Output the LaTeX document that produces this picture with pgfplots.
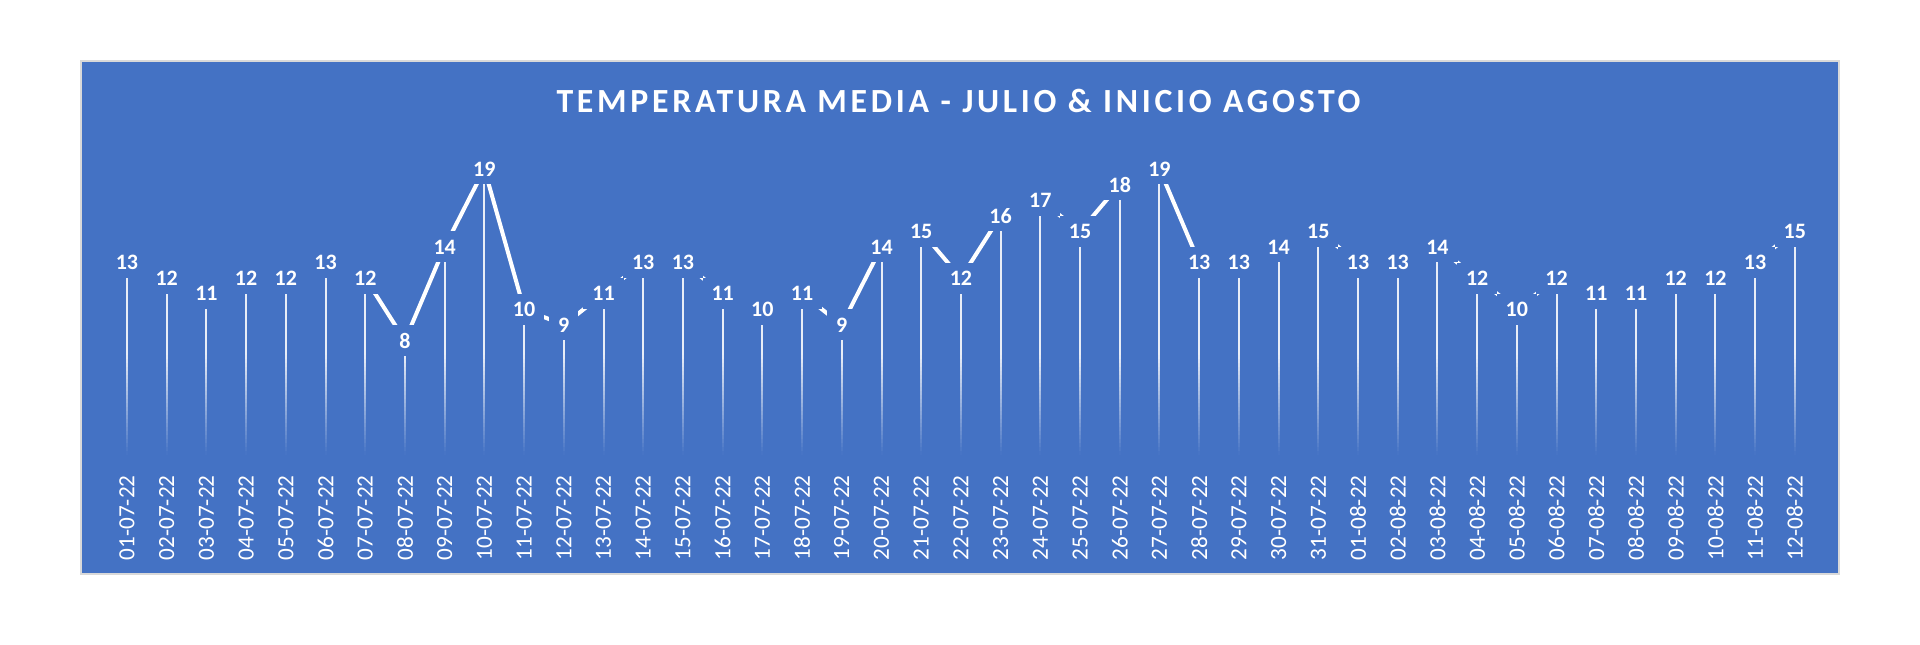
\documentclass[border=0pt]{standalone}
\usepackage{fontspec}
\setmainfont{Carlito}
\newfontfamily\titlefont[LetterSpace=11]{Carlito}
\usepackage{pgfplots}
\pgfplotsset{compat=1.18}
\usepackage{pgfplotstable}
\definecolor{bgblue}{RGB}{68,114,196}

\pgfplotstableread{
i t
0 13
1 12
2 11
3 12
4 12
5 13
6 12
7 8
8 14
9 19
10 10
11 9
12 11
13 13
14 13
15 11
16 10
17 11
18 9
19 14
20 15
21 12
22 16
23 17
24 15
25 18
26 19
27 13
28 13
29 14
30 15
31 13
32 13
33 14
34 12
35 10
36 12
37 11
38 11
39 12
40 12
41 13
42 15
}\data

\begin{document}
\begin{tikzpicture}
\fill[white] (0,0) rectangle (960pt,322pt);
\fill[bgblue] (40.5pt,35pt) rectangle (919.5pt,291.5pt);
\draw[black!15, line width=0.6pt] (40.5pt,35pt) rectangle (919.5pt,291.5pt);
\node[anchor=base, text=white, font=\titlefont\bfseries\fontsize{16.9}{20}\selectfont] at (479.25pt,265.5pt) {TEMPERATURA MEDIA - JULIO \& INICIO AGOSTO};
\begin{axis}[
  at={(53.57pt,85.22pt)}, anchor=south west,
  scale only axis, width=853.77pt, height=191.88pt,
  xmin=-0.5, xmax=42.5, ymin=0.4, ymax=25,
  axis line style={draw=none}, major tick length=0pt,
  ytick=\empty,
  xtick={0,...,42},
  xticklabels={01-07-22,02-07-22,03-07-22,04-07-22,05-07-22,06-07-22,07-07-22,08-07-22,09-07-22,10-07-22,11-07-22,12-07-22,13-07-22,14-07-22,15-07-22,16-07-22,17-07-22,18-07-22,19-07-22,20-07-22,21-07-22,22-07-22,23-07-22,24-07-22,25-07-22,26-07-22,27-07-22,28-07-22,29-07-22,30-07-22,31-07-22,01-08-22,02-08-22,03-08-22,04-08-22,05-08-22,06-08-22,07-08-22,08-08-22,09-08-22,10-08-22,11-08-22,12-08-22},
  xticklabel style={rotate=90, anchor=east, inner sep=0pt, text=white, font=\fontsize{11.6}{13}\selectfont},
  xticklabel shift=0.72pt,
  /pgf/number format/assume math mode=true,
]
\addplot[ycomb, white, opacity=0.88, line width=1pt, no marks] table[x=i, y=t] {\data};
\addplot[white, line width=2pt, no marks, line join=round] table[x=i, y expr=\thisrow{t}+0.93] {\data};
\addplot[draw=none, no marks, nodes near coords, point meta=explicit,
  nodes near coords style={anchor=center, fill=bgblue, text=white, inner xsep=4.5pt, inner ysep=0pt, minimum height=15.5pt, font=\bfseries\fontsize{11}{13}\selectfont}]
  table[x=i, y expr=\thisrow{t}+0.93, meta=t] {\data};
\end{axis}
% fade of the drop lines towards the date labels
\fill[bgblue] (41pt,85pt) rectangle (919pt,94.5pt);
\foreach \k in {0,...,24}{
  \pgfmathsetmacro{\op}{1-(\k+0.5)/25}
  \fill[bgblue, fill opacity=\op] (41pt,{94.5pt+2*\k pt}) rectangle (919pt,{96.5pt+2*\k pt});
}
\end{tikzpicture}
\end{document}
